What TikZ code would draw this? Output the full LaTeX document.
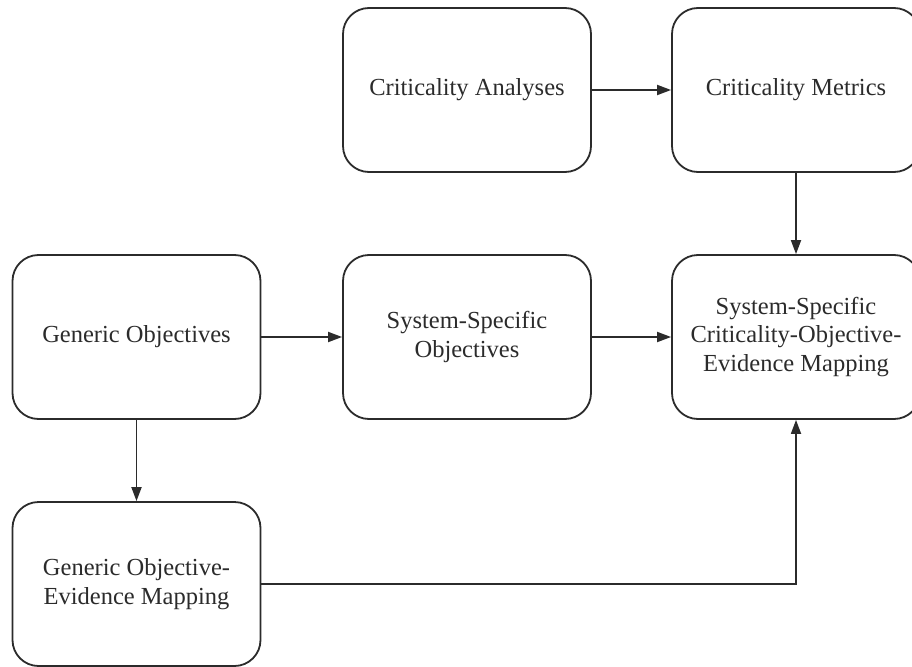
\documentclass[tikz,border=0pt]{standalone}
\usepackage{fontspec}
\setmainfont{Liberation Serif}
\usetikzlibrary{arrows.meta}
\definecolor{ink}{HTML}{2B2B2B}
\tikzset{
  procbox/.style={draw=ink, line width=1.8pt, rounded corners=26pt, fill=white,
    minimum width=248pt, minimum height=164pt, align=center, text=ink,
    font=\fontsize{24.5}{28.5}\selectfont, inner sep=0pt},
  flow/.style={draw=ink, line width=1.8pt, -{Triangle[length=14pt,width=10pt]}}
}
\begin{document}
\begin{tikzpicture}[x=1pt,y=-1pt]
  \useasboundingbox (0,0) rectangle (912,666);
  \node[procbox] (ca)   at (467,90)  {Criticality Analyses};
  \node[procbox] (cm)   at (796,90)  {Criticality Metrics};
  \node[procbox] (go)   at (136.5,337) {Generic Objectives};
  \node[procbox] (sso)  at (467,337) {System-Specific\\Objectives};
  \node[procbox] (scoe) at (796,337) {System-Specific\\Criticality-Objective-\\Evidence Mapping};
  \node[procbox] (goem) at (136.5,584) {Generic Objective-\\Evidence Mapping};

  \draw[flow] (ca.east) -- (cm.west);
  \draw[flow] (cm.south) -- (scoe.north);
  \draw[flow] (go.east) -- (sso.west);
  \draw[flow] (sso.east) -- (scoe.west);
  \draw[flow] (go.south) -- (goem.north);
  \draw[flow] (goem.east) -| (scoe.south);
\end{tikzpicture}
\end{document}
